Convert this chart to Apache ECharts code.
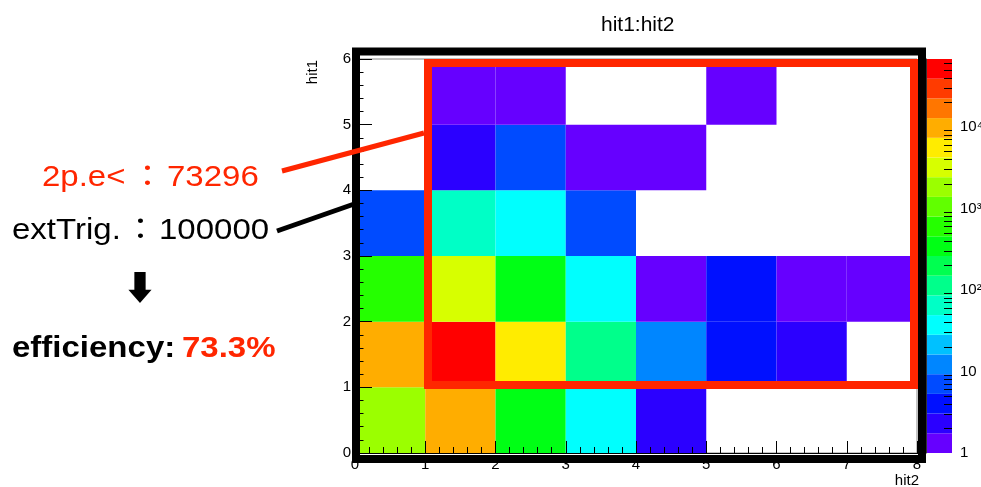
<!DOCTYPE html>
<html>
<head>
<meta charset="utf-8">
<script src="https://cdn.jsdelivr.net/npm/echarts@6/dist/echarts.min.js"></script>
<style>
  html, body { margin: 0; padding: 0; background: #fff; }
  #main { width: 981px; height: 487px; }
</style>
</head>
<body>
<div id="main"></div>
<script>
// hit2 bins (x) and hit1 bins (y), one count per cell, 0 = empty
var hit2Bins = [0, 1, 2, 3, 4, 5, 6, 7];
var hit1Bins = [0, 1, 2, 3, 4, 5];
// rows: hit1 = 0..5, columns: hit2 = 0..7
var counts = [
  [1800, 12000, 340, 37, 2, 0, 0, 0],
  [11918, 63955, 5500, 116, 12, 4, 2, 0],
  [600, 3200, 340, 37, 1, 4, 1, 1],
  [7, 65, 37, 7, 0, 0, 0, 0],
  [0, 2, 7, 1, 1, 0, 0, 0],
  [0, 1, 1, 0, 0, 1, 0, 0]
];
var zMin = 1, zMax = 68200;
var zTickValues = [1, 10, 100, 1000, 10000];
var zTickLabels = ['1', '10', '10²', '10³', '10⁴'];

// palette (20 contour levels, violet -> red)
var palette = ['#6600ff', '#2b00ff', '#0010ff', '#004bff', '#0086ff', '#00c1ff', '#00fffe',
  '#00ffc6', '#00ff8b', '#00ff50', '#00ff15', '#25ff00', '#61ff00', '#9bff00', '#d7ff00',
  '#ffec00', '#ffad00', '#ff7600', '#ff3b00', '#ff0000'];

var FONT = "'Liberation Sans', 'Noto Sans CJK JP', 'DejaVu Sans', sans-serif";
var RED = '#ff2600';

// cells
var cells = [];
hit1Bins.forEach(function (y) {
  hit2Bins.forEach(function (x) {
    if (counts[y][x] > 0) cells.push([x, y, counts[y][x]]);
  });
});

// log-spaced contour levels for the colour scale
var nLev = palette.length;
var lmin = Math.log10(zMin), lmax = Math.log10(zMax);
var levels = [];
for (var i = 0; i <= nLev; i++) levels.push(Math.pow(10, lmin + (lmax - lmin) * i / nLev));
var pieces = [], bands = [];
for (var k = 0; k < nLev; k++) {
  pieces.push({ gte: levels[k], lt: k === nLev - 1 ? Infinity : levels[k + 1], color: palette[k] });
  bands.push([levels[k], levels[k + 1], k]);
}

// minor ticks for the colour axis
var zMinor = [];
for (var d = 1; d <= zMax; d *= 10) {
  for (var m = 2; m <= 9; m++) if (d * m <= zMax) zMinor.push(d * m);
}

// annotation text piece
function label(txt, x, y, color, bold) {
  return {
    type: 'text', x: x, y: y, z: 50, scaleX: 1.1,
    style: {
      text: txt, font: (bold ? 'bold ' : '') + '30px ' + FONT, fill: color,
      verticalAlign: 'middle', textVerticalAlign: 'middle'
    }
  };
}

var chart = echarts.init(document.getElementById('main'));
var option = {
  animation: false,
  title: {
    text: 'hit1:hit2',
    left: 596,
    top: 10,
    textStyle: { fontFamily: FONT, fontSize: 21, fontWeight: 'normal', color: '#000' }
  },
  grid: [
    { left: 355, top: 59, width: 562, height: 394, show: true, borderColor: '#888', borderWidth: 1,
      outerBoundsMode: 'none', containLabel: false },
    { left: 926, top: 59, width: 26, height: 394, outerBoundsMode: 'none', containLabel: false }
  ],
  xAxis: [
    {
      type: 'value', gridIndex: 0, min: 0, max: 8, interval: 1, z: 5,
      axisLine: { show: true, lineStyle: { color: '#000', width: 1 } },
      axisTick: { inside: true, length: 12, lineStyle: { color: '#000' } },
      minorTick: { show: true, splitNumber: 5, length: 6, lineStyle: { color: '#000' } },
      splitLine: { show: false },
      axisLabel: { fontFamily: FONT, fontSize: 15, color: '#000', margin: 4 }
    },
    { type: 'value', gridIndex: 1, min: 0, max: 1, show: false }
  ],
  yAxis: [
    {
      type: 'value', gridIndex: 0, min: 0, max: 6, interval: 1, z: 5,
      axisLine: { show: true, lineStyle: { color: '#000', width: 1 } },
      axisTick: { inside: true, length: 17, lineStyle: { color: '#000' } },
      minorTick: { show: true, splitNumber: 5, length: 8.5, lineStyle: { color: '#000' } },
      splitLine: { show: false },
      axisLabel: { fontFamily: FONT, fontSize: 15, color: '#000', margin: 4 }
    },
    {
      type: 'log', logBase: 10, gridIndex: 1, min: zMin, max: zMax, position: 'right', z: 5,
      axisLine: { show: true, lineStyle: { color: '#333', width: 1 } },
      axisTick: { inside: true, length: 16, customValues: zTickValues, lineStyle: { color: '#000' } },
      splitLine: { show: false },
      axisLabel: {
        fontFamily: FONT, fontSize: 15, color: '#000', margin: 8,
        customValues: zTickValues,
        formatter: function (v) {
          var i = zTickValues.indexOf(Math.round(v));
          return i >= 0 ? zTickLabels[i] : '';
        }
      }
    },
    {
      type: 'log', logBase: 10, gridIndex: 1, min: zMin, max: zMax, position: 'right', z: 5,
      axisLine: { show: false },
      axisTick: { inside: true, length: 8, customValues: zMinor, lineStyle: { color: '#000' } },
      axisLabel: { show: false },
      splitLine: { show: false }
    }
  ],
  visualMap: {
    type: 'piecewise', show: false, seriesIndex: 0, dimension: 2, pieces: pieces
  },
  series: [
    {
      type: 'custom',
      xAxisIndex: 0, yAxisIndex: 0, z: 1,
      encode: { x: 0, y: 1 },
      data: cells,
      renderItem: function (params, api) {
        var x = api.value(0), y = api.value(1);
        var p0 = api.coord([x, y + 1]);
        var p1 = api.coord([x + 1, y]);
        return {
          type: 'rect',
          shape: { x: p0[0], y: p0[1], width: p1[0] - p0[0], height: p1[1] - p0[1] },
          style: { fill: api.visual('color') }
        };
      }
    },
    {
      type: 'custom',
      xAxisIndex: 1, yAxisIndex: 1, z: 1,
      encode: { y: [0, 1] },
      data: bands,
      renderItem: function (params, api) {
        var p0 = api.coord([0, api.value(1)]);
        var p1 = api.coord([1, api.value(0)]);
        return {
          type: 'rect',
          shape: { x: p0[0], y: p0[1], width: p1[0] - p0[0], height: p1[1] - p0[1] },
          style: { fill: palette[api.value(2)] }
        };
      }
    }
  ],
  graphic: [
    // axis titles
    { type: 'text', x: 919, y: 481, z: 50,
      style: { text: 'hit2', font: '15px ' + FONT, fill: '#000', align: 'right', verticalAlign: 'middle', textAlign: 'right', textVerticalAlign: 'middle' } },
    { type: 'text', x: 313, y: 60, rotation: Math.PI / 2, z: 50,
      style: { text: 'hit1', font: '15px ' + FONT, fill: '#000', align: 'right', verticalAlign: 'middle', textAlign: 'right', textVerticalAlign: 'middle' } },
    // black frame
    { type: 'rect', z: 100, shape: { x: 356, y: 51.5, width: 566, height: 407.5 },
      style: { fill: 'none', stroke: '#000', lineWidth: 8 } },
    // red selection box
    { type: 'rect', z: 101, shape: { x: 428, y: 63, width: 486, height: 322 },
      style: { fill: 'none', stroke: RED, lineWidth: 8 } },
    // pointer lines
    { type: 'line', z: 102, shape: { x1: 282, y1: 171, x2: 424, y2: 133 },
      style: { stroke: RED, lineWidth: 5 } },
    { type: 'line', z: 102, shape: { x1: 277, y1: 231, x2: 357, y2: 203 },
      style: { stroke: '#000', lineWidth: 5 } },
    // annotation texts
    label('2p.e<', 42, 177.5, RED),
    label('：', 131, 177.5, RED),
    label('73296', 167, 177.5, RED),
    label('extTrig.', 12, 231, '#000'),
    label('：', 124, 231, '#000'),
    label('100000', 159, 231, '#000'),
    { type: 'text', x: 140, y: 291, z: 50,
      style: { text: '⬇', font: '34px ' + FONT, fill: '#000', align: 'center', verticalAlign: 'middle', textAlign: 'center', textVerticalAlign: 'middle' } },
    label('efficiency:', 12, 349, '#000', true),
    label('73.3%', 182, 349, RED, true)
  ]
};
chart.setOption(option);
</script>
</body>
</html>
